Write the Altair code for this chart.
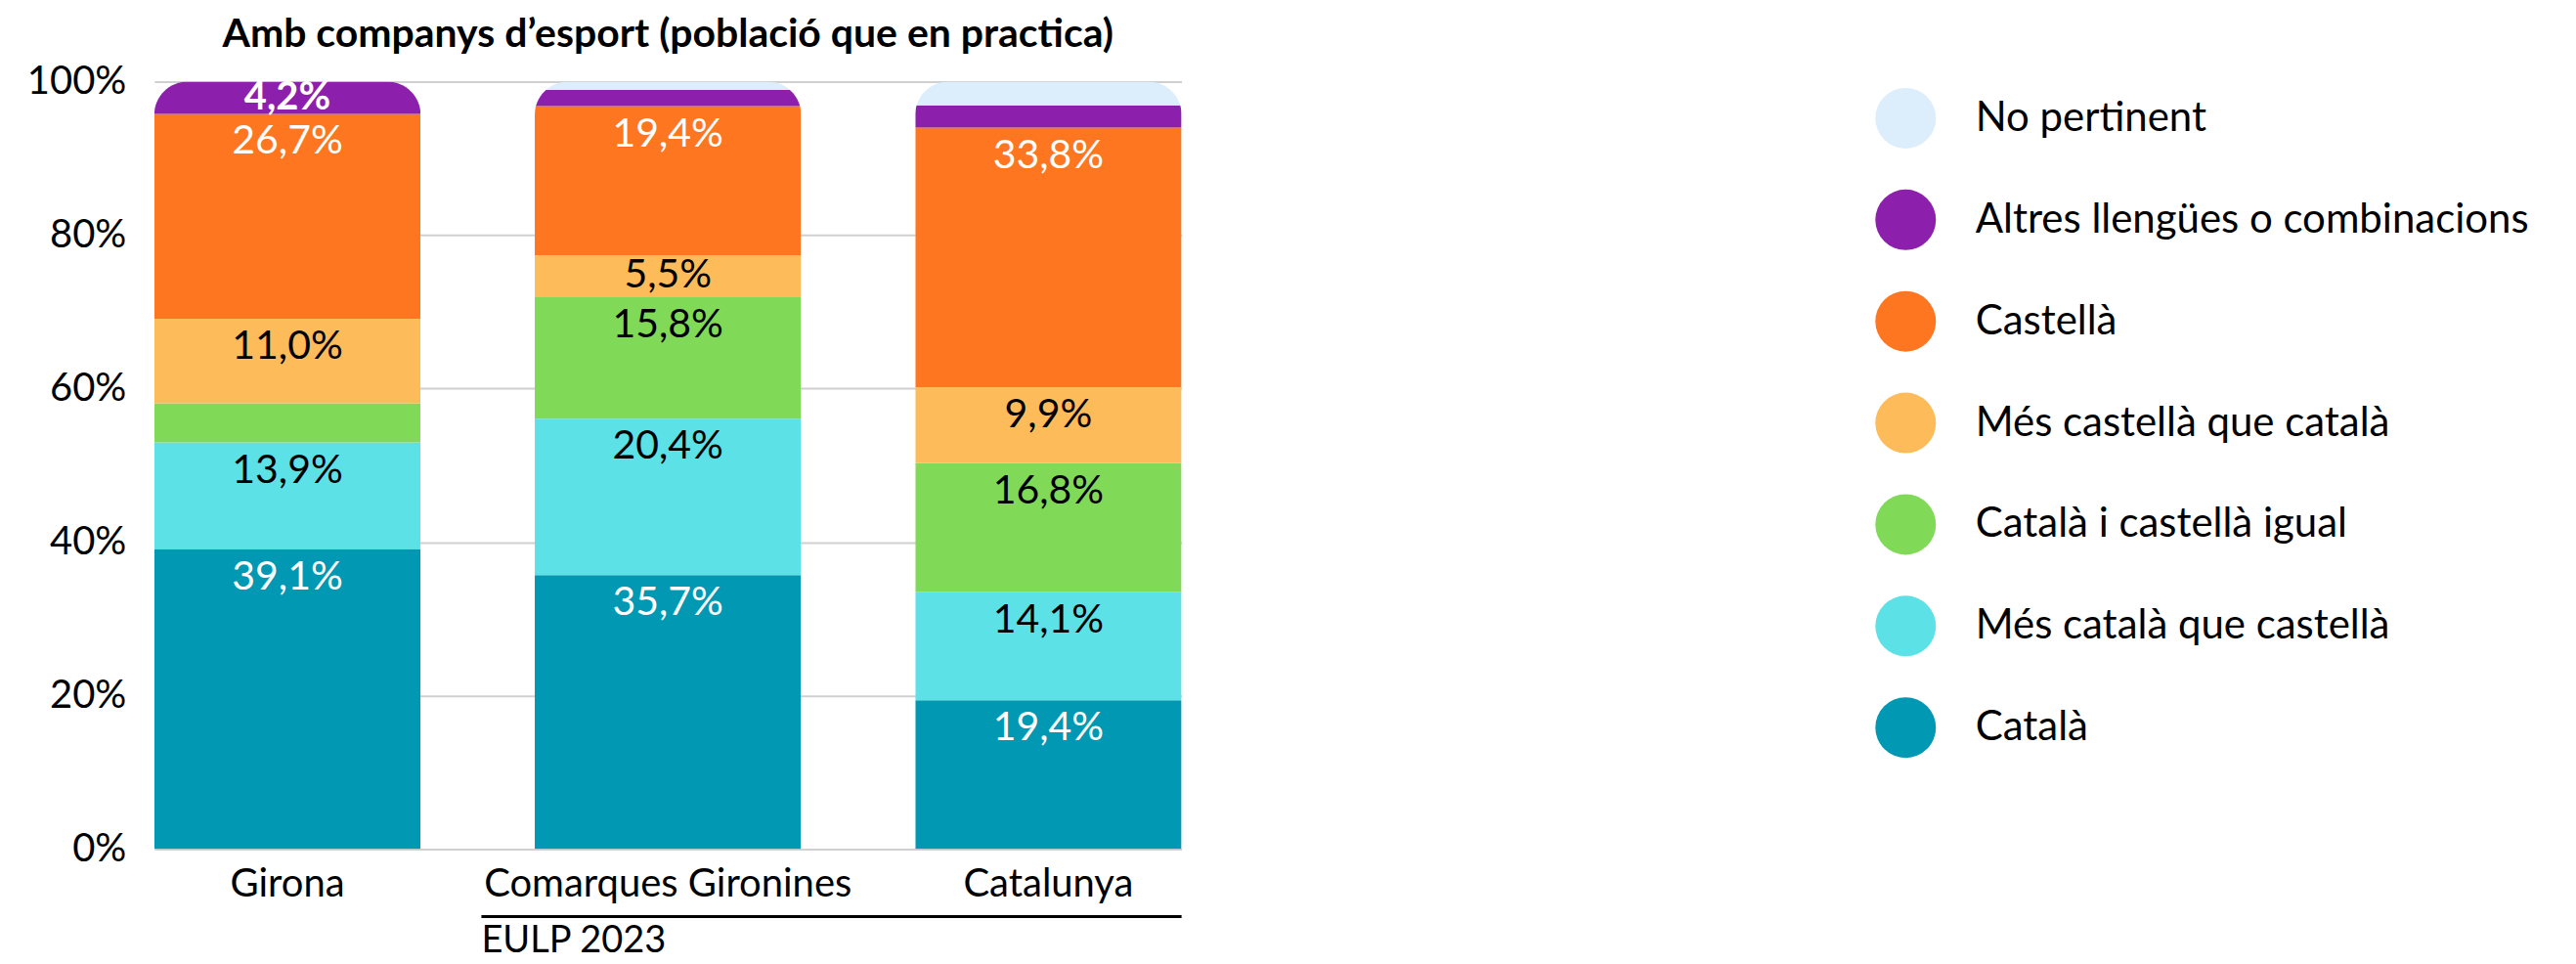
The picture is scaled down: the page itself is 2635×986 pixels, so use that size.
import altair as alt
import pandas as pd

regions = ["Girona", "Comarques Gironines", "Catalunya"]
# stacking order, bottom -> top
categories = [
    "Català",
    "Més català que castellà",
    "Català i castellà igual",
    "Més castellà que català",
    "Castellà",
    "Altres llengües o combinacions",
    "No pertinent",
]
colors = ["#0098B3", "#5CE1E6", "#80DA57", "#FEBB5A", "#FF7620", "#8D1FAD", "#DCEDFC"]
text_colors = ["white", "black", "black", "black", "white", "white", "black"]

girona = [39.1, 13.9, 5.1, 11.0, 26.7, 4.2, 0.0]
comarques = [35.7, 20.4, 15.8, 5.5, 19.4, 2.1, 1.1]
catalunya = [19.4, 14.1, 16.8, 9.9, 33.8, 2.9, 3.1]

# which values carry a label: n = normal, b = bold, "" = none
girona_lab = ["n", "n", "", "n", "n", "b", ""]
comarques_lab = ["n", "n", "n", "n", "n", "", ""]
catalunya_lab = ["n", "n", "n", "n", "n", "", ""]

group_label = "EULP 2023"
title = "Amb companys d’esport (població que en practica)"

rows = []
for reg, vals, labs in zip(regions, [girona, comarques, catalunya],
                           [girona_lab, comarques_lab, catalunya_lab]):
    for i, (c, v, l) in enumerate(zip(categories, vals, labs)):
        rows.append(dict(region=reg, cat=c, value=v, ord=i, lab=l, tcol=text_colors[i]))
df = pd.DataFrame(rows)

legend_order = categories[::-1]
legend_colors = colors[::-1]

W, H = 1052, 786
FONT = "Lato"

xenc = alt.X("region:N", sort=regions,
             scale=alt.Scale(paddingInner=0.3, paddingOuter=0),
             axis=alt.Axis(title=None, labelAngle=0, labelFontSize=40, labelColor="black",
                           labelPadding=16, ticks=False, domain=False, labelFont=FONT,
                           labelLimit=1000))
yscale = alt.Scale(domain=[0, 100], nice=False)

bars = alt.Chart(df).mark_bar(cornerRadiusTopLeft=34, cornerRadiusTopRight=34).encode(
    x=xenc,
    y=alt.Y("value:Q", stack="zero", scale=yscale,
            axis=alt.Axis(title=None, values=[0, 20, 40, 60, 80, 100],
                          labelExpr="datum.value + '%'", ticks=False, domain=False,
                          labelFontSize=40, labelFont=FONT, labelColor="black",
                          labelPadding=29, gridColor="#d0d0d0", gridWidth=2)),
    color=alt.Color("cat:N", scale=alt.Scale(domain=legend_order, range=legend_colors),
                    legend=alt.Legend(title=None, orient="none", legendX=1762, legendY=6,
                                      symbolType="circle", symbolSize=3848,
                                      symbolStrokeWidth=0, symbolOpacity=1,
                                      labelFontSize=42, labelFont=FONT, labelColor="black",
                                      labelOffset=40, rowPadding=41, padding=0,
                                      labelLimit=1000)),
    order=alt.Order("ord:Q", sort="ascending"),
)

base_lab = alt.Chart(df).transform_stack(
    stack="value", groupby=["region"], as_=["v0", "v1"],
    sort=[alt.SortField("ord", order="ascending")]
).transform_calculate(
    ypos="max(datum.v1 - 3.7, (datum.v0 + datum.v1) / 2)",
    txt="replace(format(datum.value, '.1f'), '.', ',') + '%'",
)

lab_norm = base_lab.transform_filter("datum.lab == 'n'").mark_text(
    fontSize=41, font=FONT, baseline="middle", align="center"
).encode(
    x=alt.X("region:N", sort=regions),
    y=alt.Y("ypos:Q", scale=yscale),
    text="txt:N",
    color=alt.Color("tcol:N", scale=None),
)
lab_bold = base_lab.transform_filter("datum.lab == 'b'").mark_text(
    fontSize=40, font=FONT, fontWeight="bold", baseline="middle", align="center"
).encode(
    x=alt.X("region:N", sort=regions),
    y=alt.Y("ypos:Q", scale=yscale),
    text="txt:N",
    color=alt.Color("tcol:N", scale=None),
)

grp = pd.DataFrame({"t": [group_label]})
rule = alt.Chart(grp).mark_rule(color="black", strokeWidth=3).encode(
    x=alt.value(335), x2=alt.value(1052), y=alt.value(855)
)
grp_text = alt.Chart(grp).mark_text(align="left", baseline="middle", fontSize=38,
                                    font=FONT, color="black").encode(
    x=alt.value(335), y=alt.value(881), text="t:N"
)

chart = alt.layer(bars, lab_norm, lab_bold, rule, grp_text).properties(
    width=W, height=H,
    title=alt.TitleParams(title, fontSize=41, fontWeight="bold", font=FONT,
                          anchor="middle", offset=7, color="black"),
    autosize=alt.AutoSizeParams(type="none"),
    padding={"left": 150, "top": 75, "right": 1420, "bottom": 117},
).configure_view(stroke=None)

chart.save("out.html", embed_options={"renderer": "svg", "actions": False})
